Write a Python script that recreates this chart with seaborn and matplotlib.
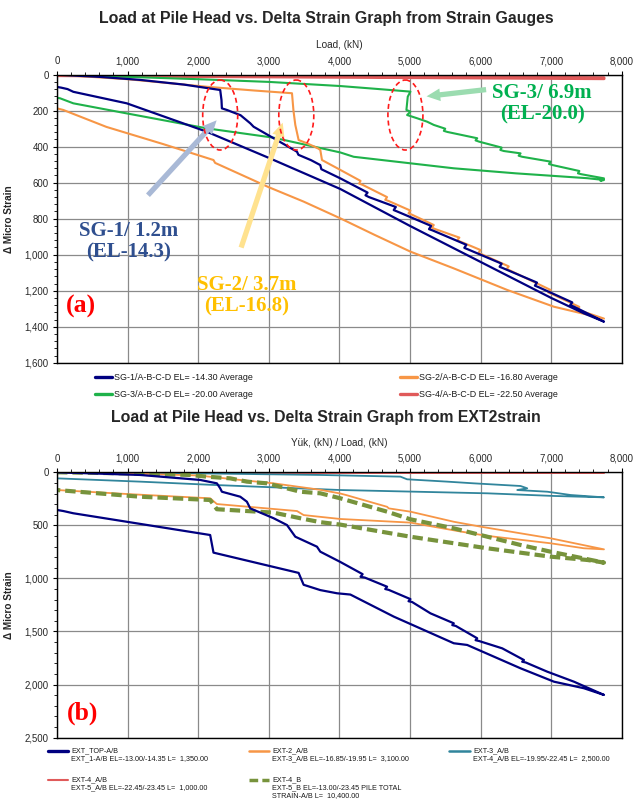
import matplotlib
matplotlib.use("Agg")
import matplotlib.pyplot as plt
from matplotlib.lines import Line2D
from matplotlib.patches import Ellipse
from matplotlib.ticker import MultipleLocator, FuncFormatter
import seaborn as sns

# ---------------------------------------------------------------- data (a)
sg1_load_up = [0, 600, 1180, 1800, 2312, 2330, 2336, 2407, 2600, 2738, 2785, 3100, 3400, 3420, 3600, 3730, 3745,
               4014, 4400, 4370, 4420, 4800, 4770, 4820, 5300, 5270, 5320, 5800, 5770, 5820, 6300, 6270, 6320,
               6800, 6770, 6820, 7300, 7270, 7320, 7749]
sg1_strain_up = [0, 12, 29, 55, 85, 140, 187, 196, 225, 270, 289, 360, 428, 445, 475, 502, 525,
                 576, 655, 670, 680, 735, 752, 760, 840, 858, 865, 945, 962, 970, 1050, 1067, 1075,
                 1155, 1172, 1180, 1265, 1280, 1288, 1372]
sg1_load_dn = [7749, 7465, 7000, 6000, 5000, 4014, 3000, 2123, 988, 231, 150, 60, 0]
sg1_strain_dn = [1372, 1326, 1240, 1040, 840, 635, 462, 317, 159, 95, 80, 72, 68]

sg2_load_up = [0, 1000, 2123, 2800, 3329, 3350, 3376, 3423, 3541, 3620, 3700, 3730, 3754, 4014, 4300, 4280, 4330,
               4676, 4650, 4700, 5007, 4980, 5030, 5338, 5310, 5360, 5700, 5670, 5720, 6000, 5970, 6020,
               6400, 6370, 6420, 6993, 6960, 7010, 7400, 7370, 7420, 7749]
sg2_strain_up = [0, 25, 67, 88, 103, 200, 279, 363, 381, 395, 410, 418, 474, 529, 590, 605, 612,
                 680, 695, 702, 755, 770, 778, 835, 850, 858, 905, 920, 928, 974, 990, 998,
                 1065, 1080, 1088, 1196, 1210, 1218, 1290, 1305, 1312, 1355]
sg2_load_dn = [7749, 7040, 6379, 5621, 5007, 4500, 4014, 3494, 3000, 2240, 2217, 1500, 700, 90, 0]
sg2_strain_dn = [1355, 1289, 1196, 1076, 983, 890, 798, 705, 625, 490, 474, 385, 290, 196, 187]

sg3_load_up = [0, 1000, 2000, 3000, 4014, 4500, 5007, 4969, 4950, 5007, 4960, 5102, 5243, 5338, 5500, 5480, 5530,
               5953, 5930, 5980, 6300, 6280, 6330, 6567, 6540, 6590, 6993, 6970, 7020, 7400, 7380, 7430,
               7749, 7700, 7749]
sg3_strain_up = [0, 12, 25, 40, 63, 78, 94, 122, 196, 205, 224, 242, 261, 279, 300, 312, 318,
                 353, 365, 372, 405, 418, 424, 437, 450, 456, 483, 496, 502, 535, 548, 553,
                 576, 590, 585]
sg3_load_dn = [7749, 7513, 6500, 5621, 4203, 4014, 3069, 2123, 988, 231, 43, 0]
sg3_strain_dn = [585, 575, 548, 520, 456, 432, 350, 298, 215, 159, 131, 128]

sg4_load = [0, 2000, 4000, 6000, 7749, 7749, 6000, 4000, 2000, 0]
sg4_strain = [0, 5, 9, 13, 17, 22, 18, 14, 10, 5]

# ---------------------------------------------------------------- data (b)
top_load_up = [0, 1177, 2028, 2265, 2312, 2336, 2596, 2690, 2738, 3069, 3258, 3376, 3683, 3730, 4014,
               4330, 4300, 4360, 4676, 4650, 4700, 5007, 4980, 5030, 5291, 5621, 5600, 5650, 5953, 5930, 5980,
               6308, 6615, 6590, 6640, 6946, 7323, 7749]
top_strain_up = [0, 25, 72, 104, 151, 183, 230, 277, 340, 433, 497, 607, 701, 748, 845,
                 960, 985, 992, 1078, 1100, 1108, 1195, 1215, 1222, 1329, 1423, 1440, 1448, 1564, 1582, 1590,
                 1659, 1769, 1785, 1792, 1879, 1973, 2098]
top_load_dn = [7749, 7465, 7040, 6567, 5811, 5621, 4771, 4156, 3967, 3730, 3494, 3423, 2217, 2170, 231, 90, 0]
top_strain_dn = [2098, 2035, 1973, 1847, 1627, 1611, 1360, 1152, 1140, 1110, 1060, 948, 757, 591, 386, 365, 355]

ext2_load_up = [0, 1000, 2000, 2596, 3069, 3730, 4014, 4100, 4345, 4676, 4700, 5007, 5621, 6000, 6567, 6993, 7749]
ext2_strain_up = [0, 10, 30, 72, 104, 165, 200, 215, 262, 325, 340, 371, 466, 512, 575, 622, 726]
ext2_load_dn = [7749, 7465, 6993, 6095, 5716, 5007, 4014, 3494, 3400, 2265, 2170, 1000, 0]
ext2_strain_dn = [726, 716, 669, 599, 558, 474, 440, 403, 365, 299, 245, 205, 167]

ext3_load_up = [0, 2000, 3730, 4865, 4960, 5527, 5905, 6567, 6662, 6520, 6946, 7277, 7749]
ext3_strain_up = [0, 10, 25, 41, 66, 88, 104, 129, 151, 167, 183, 214, 236]
ext3_load_dn = [7749, 7040, 6095, 4014, 2217, 1177, 0]
ext3_strain_dn = [236, 223, 198, 167, 119, 88, 57]

ext4_load = [0, 3000, 7749, 3000, 0]
ext4_strain = [0, 2, 3, 2, 0]

ext4b_load_up = [0, 1000, 1887, 2123, 2454, 2690, 2974, 3447, 3730, 4014, 4345, 4676, 5007, 5621, 6000, 6567, 6993, 7749]
ext4b_strain_up = [0, 10, 25, 41, 57, 88, 104, 183, 198, 245, 308, 371, 443, 528, 591, 685, 748, 851]
ext4b_load_dn = [7749, 7513, 6993, 6095, 5007, 4014, 3730, 3447, 3069, 2265, 2170, 1177, 0]
ext4b_strain_dn = [851, 826, 795, 716, 607, 493, 470, 433, 380, 348, 261, 230, 167]

NAVY = "#000080"
ORANGE = "#f79646"
GREEN = "#1fb24a"
RED = "#e05a5a"
TEAL = "#31859c"
OLIVE = "#77933c"

sns.set_theme(style="white")
plt.rcParams["font.family"] = ["Liberation Sans", "DejaVu Sans"]
plt.rcParams["axes.edgecolor"] = "black"

fig = plt.figure(figsize=(6.34, 8.05), dpi=100)
W, H = 634, 805
ax1 = fig.add_axes([57 / W, 1 - 362.7 / H, 564.7 / W, 288 / H])
ax2 = fig.add_axes([57 / W, 1 - 737.6 / H, 564.7 / W, 265.3 / H])


def style_axis(ax, ymax, ymaj, ymin, xlabel):
    ax.set_xlim(0, 8000)
    ax.set_ylim(ymax, 0)
    ax.xaxis.tick_top()
    ax.xaxis.set_label_position("top")
    ax.xaxis.set_major_locator(MultipleLocator(1000))
    ax.xaxis.set_minor_locator(MultipleLocator(200))
    ax.yaxis.set_major_locator(MultipleLocator(ymaj))
    ax.yaxis.set_minor_locator(MultipleLocator(ymin))
    fmt = FuncFormatter(lambda v, p: f"{v:,.0f}")
    ax.xaxis.set_major_formatter(fmt)
    ax.yaxis.set_major_formatter(fmt)
    ax.tick_params(which="major", length=3, width=0.8, labelsize=6.9, pad=3, color="black")
    ax.tick_params(which="minor", length=2, width=0.6, color="black")
    ax.tick_params(axis="x", which="both", top=True, bottom=False)
    ax.tick_params(axis="y", which="both", left=True)
    ax.grid(True, which="major", color="#8a8a8a", lw=0.9)
    for s in ax.spines.values():
        s.set_visible(True)
        s.set_color("black")
        s.set_linewidth(1.0)
    ax.set_xlabel(xlabel, fontsize=7.2, labelpad=6)
    ax.set_ylabel("\u0394 Micro Strain", fontsize=7.2, fontweight="bold")
    ax.yaxis.set_label_coords(-43 / 564.7, 0.5)


def draw(ax, x, y, color, lw, ls="-"):
    sns.lineplot(x=x, y=y, sort=False, estimator=None, ax=ax, color=color, lw=lw, linestyle=ls,
                 legend=False, solid_joinstyle="round")


style_axis(ax1, 1600, 200, 40, "Load, (kN)")
style_axis(ax2, 2500, 500, 100, "Yük, (kN) / Load, (kN)")

# ---- chart (a)
draw(ax1, sg4_load, sg4_strain, RED, 2.2)
draw(ax1, sg3_load_up + sg3_load_dn, sg3_strain_up + sg3_strain_dn, GREEN, 1.5)
draw(ax1, sg2_load_up + sg2_load_dn, sg2_strain_up + sg2_strain_dn, ORANGE, 1.5)
draw(ax1, sg1_load_up + sg1_load_dn, sg1_strain_up + sg1_strain_dn, NAVY, 1.6)

for cx in (2312, 3390, 4936):
    ax1.add_patch(Ellipse((cx, 224), 496, 389, fill=False, ec="#ff1a1a", ls=(0, (3, 2)), lw=1.2, zorder=5))

arrow = "simple,head_length=0.7,head_width=0.65,tail_width=0.27"
ax1.annotate("", xy=(2288, 242), xytext=(1262, 681),
             arrowprops=dict(arrowstyle=arrow, mutation_scale=14, color="#a9b9d6", lw=0))
ax1.annotate("", xy=(3210, 252), xytext=(2596, 975),
             arrowprops=dict(arrowstyle=arrow, mutation_scale=14, color="#ffe28f", lw=0))
ax1.annotate("", xy=(5196, 122), xytext=(6118, 81),
             arrowprops=dict(arrowstyle=arrow, mutation_scale=14, color="#9bdcb0", lw=0))

serif = ["Liberation Serif", "DejaVu Serif"]
ax1.text(1011, 928, "SG-1/ 1.2m\n(EL-14.3)", color="#2f4f8f", fontsize=15, fontweight="bold",
         family=serif, ha="center", va="center", linespacing=1.1)
ax1.text(2691, 1228, "SG-2/ 3.7m\n(EL-16.8)", color="#ffc000", fontsize=15, fontweight="bold",
         family=serif, ha="center", va="center", linespacing=1.1)
ax1.text(6875, 159, "SG-3/ 6.9m\n(EL-20.0)", color="#00b050", fontsize=15, fontweight="bold",
         family=serif, ha="center", va="center", linespacing=1.1)
ax1.text(340, 1285, "(a)", color="#ff0000", fontsize=18.5, fontweight="bold", family=serif,
         ha="center", va="center")

# ---- chart (b)
draw(ax2, ext4_load, ext4_strain, RED, 1.5)
draw(ax2, ext3_load_up + ext3_load_dn, ext3_strain_up + ext3_strain_dn, TEAL, 1.3)
draw(ax2, ext2_load_up + ext2_load_dn, ext2_strain_up + ext2_strain_dn, ORANGE, 1.3)
draw(ax2, ext4b_load_up + ext4b_load_dn, ext4b_strain_up + ext4b_strain_dn, OLIVE, 3.0, (0, (2.5, 1.2)))
draw(ax2, top_load_up + top_load_dn, top_strain_up + top_strain_dn, NAVY, 1.6)
ax2.text(369, 2268, "(b)", color="#ff0000", fontsize=18.5, fontweight="bold", family=serif,
         ha="center", va="center")

# ---- titles
fig.text(326 / W, 1 - 18 / H, "Load at Pile Head vs. Delta Strain Graph from Strain Gauges",
         fontsize=11.4, fontweight="bold", ha="center", va="center")
fig.text(326 / W, 1 - 417 / H, "Load at Pile Head vs. Delta Strain Graph from EXT2strain",
         fontsize=11.4, fontweight="bold", ha="center", va="center")


# ---- legends (manual layout)
def legend_entry(x0, x1, y, color, label, lw=2.4, ls="-"):
    fig.add_artist(Line2D([x0 / W, x1 / W], [1 - y / H, 1 - y / H], color=color, lw=lw, ls=ls,
                          transform=fig.transFigure))
    fig.text((x1 + 2) / W, 1 - y / H, label, fontsize=6.4, color="#1a1a1a", ha="left", va="center",
             transform=fig.transFigure)


def legend_multi(x0, x1, y, color, label, lw=2.0, ls="-"):
    fig.add_artist(Line2D([x0 / W, x1 / W], [1 - y / H, 1 - y / H], color=color, lw=lw, ls=ls,
                          transform=fig.transFigure))
    fig.text((x1 + 3) / W, 1 - (y - 4) / H, label, fontsize=5.25, color="#1a1a1a", ha="left", va="top",
             linespacing=1.25, transform=fig.transFigure)


# legend (a)
legend_entry(95, 112, 377, NAVY, "SG-1/A-B-C-D EL= -14.30 Average")
legend_entry(400, 417, 377, ORANGE, "SG-2/A-B-C-D EL= -16.80 Average")
legend_entry(95, 112, 394, GREEN, "SG-3/A-B-C-D EL= -20.00 Average")
legend_entry(400, 417, 394, RED, "SG-4/A-B-C-D EL= -22.50 Average")

# legend (b)
legend_multi(48, 68, 751, NAVY, "EXT_TOP-A/B\nEXT_1-A/B EL=-13.00/-14.35 L=  1,350.00", lw=2.4)
legend_multi(249, 269, 751, ORANGE, "EXT-2_A/B\nEXT-3_A/B EL=-16.85/-19.95 L=  3,100.00", lw=1.8)
legend_multi(449, 470, 751, TEAL, "EXT-3_A/B\nEXT-4_A/B EL=-19.95/-22.45 L=  2,500.00", lw=1.8)
legend_multi(48, 68, 780, RED, "EXT-4_A/B\nEXT-5_A/B EL=-22.45/-23.45 L=  1,000.00", lw=1.5)
legend_multi(249, 269, 780, OLIVE, "EXT-4_B\nEXT-5_B EL=-13.00/-23.45 PILE TOTAL\nSTRAIN-A/B L=  10,400.00",
             lw=2.5, ls=(0, (2.5, 1.2)))

fig.savefig("out.png", dpi=100)
